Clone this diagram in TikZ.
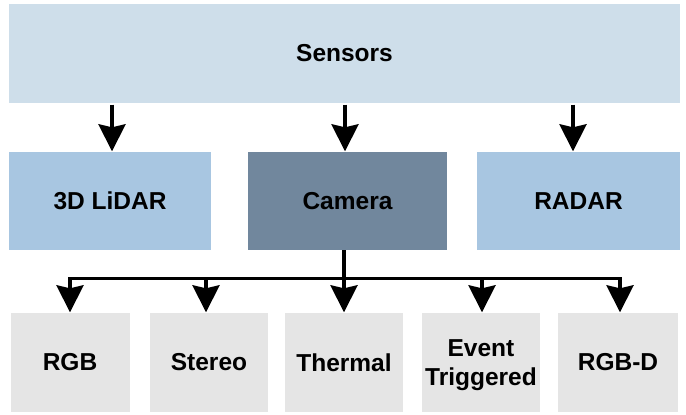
\documentclass[tikz,border=0pt]{standalone}
\usepackage{fontspec}
\setmainfont{Liberation Sans}
\usetikzlibrary{arrows.meta}
\definecolor{topc}{HTML}{CEDEEA}
\definecolor{midc}{HTML}{A8C6E1}
\definecolor{camc}{HTML}{71879D}
\definecolor{botc}{HTML}{E5E5E5}
\begin{document}
\begin{tikzpicture}[x=1pt,y=-1pt,
  box/.style={inner sep=0pt,font=\fontsize{24.5}{29}\selectfont\bfseries,align=center},
  arr/.style={line width=3.6pt,-{Stealth[length=27pt,width=27pt,inset=3pt]},shorten >=0.5pt},
  bus/.style={line width=3.6pt}]
\useasboundingbox (0,0) rectangle (686,415);
\node[box,fill=topc,minimum width=671pt,minimum height=99pt] (sensors) at (344.5,53) {Sensors};
\node[box,fill=midc,minimum width=202pt,minimum height=98pt] (lidar) at (110,201) {3D LiDAR};
\node[box,fill=camc,minimum width=199pt,minimum height=98pt] (camera) at (347.5,201) {Camera};
\node[box,fill=midc,minimum width=203pt,minimum height=98pt] (radar) at (578.5,201) {RADAR};
\node[box,fill=botc,minimum width=119pt,minimum height=99pt] (rgb) at (70,362.5) {RGB};
\node[box,fill=botc,minimum width=118pt,minimum height=99pt] (stereo) at (209,362.5) {Stereo};
\node[box,fill=botc,minimum width=118pt,minimum height=99pt] (thermal) at (344,362.5) {Thermal};
\node[box,fill=botc,minimum width=118pt,minimum height=99pt,text depth=0pt] (event) at (481,362.5) {Event\\Triggered};
\node[box,fill=botc,minimum width=120pt,minimum height=99pt] (rgbd) at (618,362.5) {RGB-D};
\draw[arr] (sensors.south -| 112,0) ++(0,2) -- (lidar.north -| 112,0);
\draw[arr] (sensors.south -| 345,0) ++(0,2) -- (camera.north -| 345,0);
\draw[arr] (sensors.south -| 573,0) ++(0,2) -- (radar.north -| 573,0);
\coordinate (bus) at (344,278.5);
\coordinate (busl) at (70,278.5);
\coordinate (busr) at (620,278.5);
\draw[bus] (camera.south -| bus) -- (bus);
\draw[bus,line cap=rect] (busl) -- (busr);
\draw[arr] (busl) -- (rgb.north -| busl);
\draw[arr] (206,278.5) -- (stereo.north -| 206,0);
\draw[arr] (bus) -- (thermal.north);
\draw[arr] (482,278.5) -- (event.north -| 482,0);
\draw[arr] (busr) -- (rgbd.north -| busr);
\end{tikzpicture}
\end{document}
